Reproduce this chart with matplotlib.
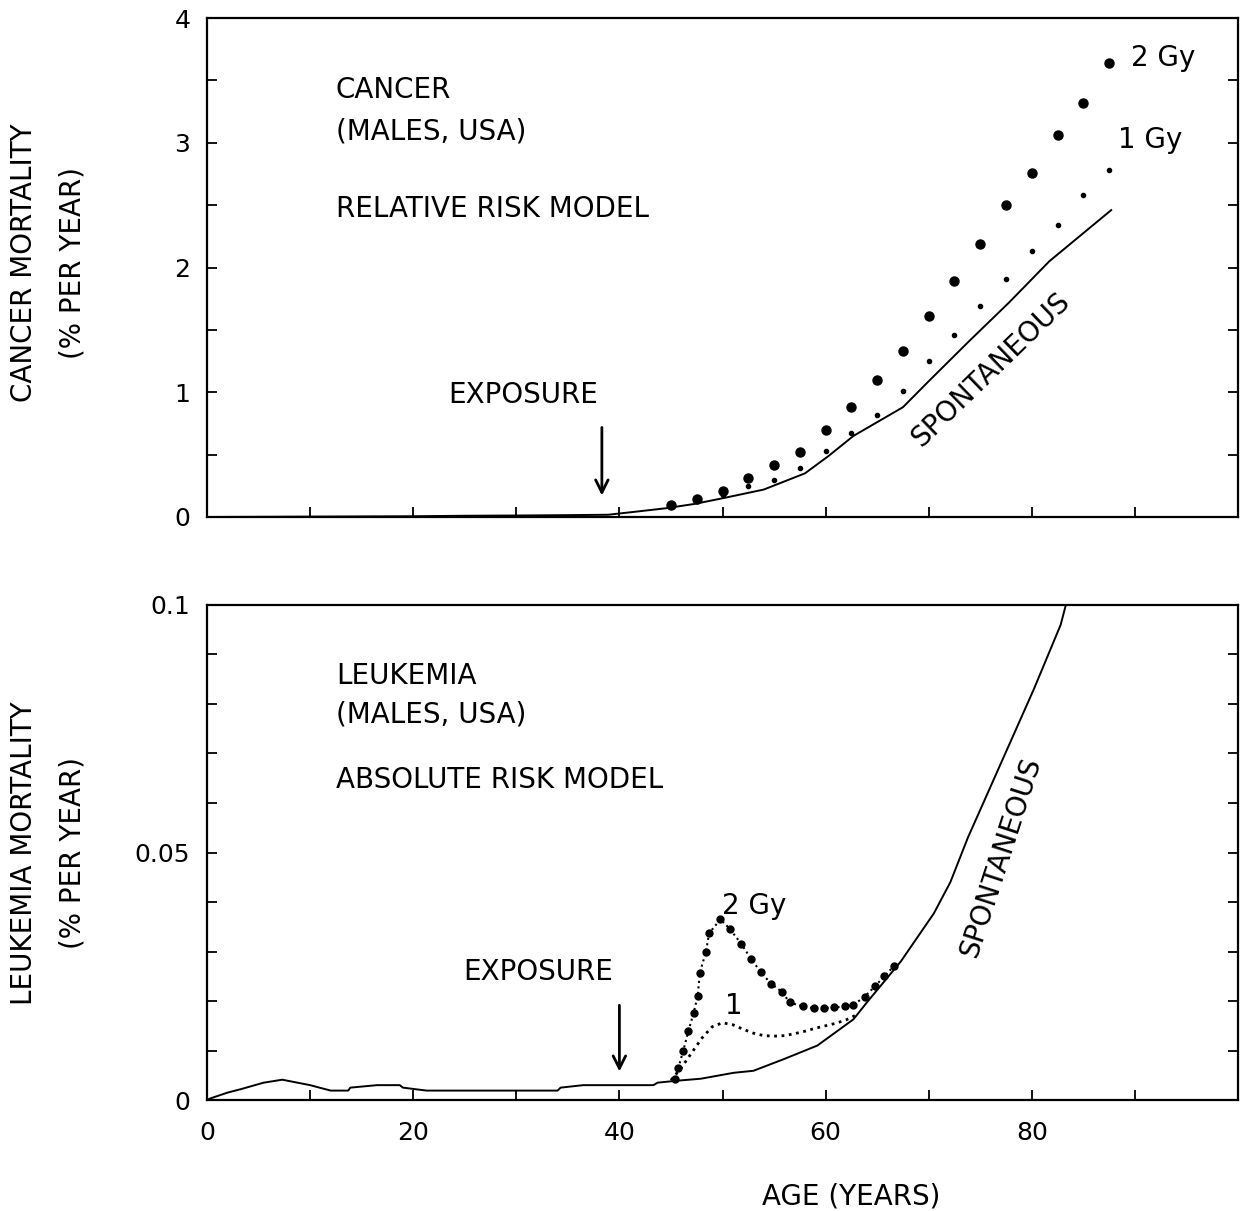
import numpy as np
import matplotlib
matplotlib.use("Agg")
import matplotlib.pyplot as plt
from matplotlib.ticker import MultipleLocator, FixedLocator

plt.rcParams['font.family'] = ['DejaVu Sans']

# ---------------- Cancer (top) ----------------
cancer_spont_age = [0, 10, 20, 25, 30, 35, 38.9, 41.3, 44.5, 47.3, 50.0, 54.0, 58.0,
                    60.3, 62.7, 67.5, 69.9, 73.8, 77.8, 81.7, 87.7]
cancer_spont_val = [0.0, 0.003, 0.006, 0.01, 0.012, 0.015, 0.018, 0.04, 0.07, 0.105, 0.15,
                    0.22, 0.35, 0.49, 0.65, 0.88, 1.08, 1.40, 1.72, 2.05, 2.46]

dose_ages = [45, 47.5, 50, 52.5, 55, 57.5, 60, 62.5, 65, 67.5, 70, 72.5, 75, 77.5,
             80, 82.5, 85, 87.5]
cancer_2gy = [0.097, 0.143, 0.21, 0.31, 0.42, 0.52, 0.70, 0.88, 1.10, 1.33, 1.61,
              1.89, 2.19, 2.50, 2.76, 3.06, 3.32, 3.64]
cancer_1gy = [0.085, 0.125, 0.175, 0.25, 0.30, 0.39, 0.53, 0.67, 0.82, 1.01, 1.25,
              1.46, 1.69, 1.91, 2.13, 2.34, 2.58, 2.78]

# ---------------- Leukemia (bottom) ----------------
leuk_spont_age = [0, 0.3, 2, 3.3, 5.5, 7.3, 10.0, 12, 13.7, 13.9, 16.5, 18.7, 19, 21.3,
                  34, 34.3, 36.5, 43.3, 43.7, 45.6, 47.9, 51.1, 53.0, 56.0, 59.2,
                  62.7, 64.0, 67.3, 70.5, 72.1, 73.8, 77.0, 80.2, 82.8, 83.3]
leuk_spont_val = [0.0, 0.0003, 0.0015, 0.0022, 0.0035, 0.0041, 0.003, 0.0019, 0.0019,
                  0.0025, 0.003, 0.003, 0.0025, 0.0019, 0.0019, 0.0025, 0.003, 0.003,
                  0.0035, 0.0039, 0.0043, 0.0055, 0.0059, 0.0083, 0.011, 0.0163,
                  0.0197, 0.028, 0.0377, 0.044, 0.053, 0.068, 0.083, 0.096, 0.1]

leuk_2gy_age = [45.4, 45.7, 46.2, 46.7, 47.2, 47.6, 47.8, 48.4, 48.7, 49.8, 50.7, 51.8,
                52.8, 53.7, 54.7, 55.8, 56.5, 57.8, 58.9, 59.8, 60.8, 61.9, 62.7,
                63.8, 64.8, 65.7, 66.6]
leuk_2gy_val = [0.0042, 0.0064, 0.010, 0.014, 0.0176, 0.0211, 0.0257, 0.030, 0.0337,
                0.0365, 0.0346, 0.0316, 0.0284, 0.0259, 0.0235, 0.0218, 0.0197, 0.0189,
                0.0185, 0.0185, 0.0187, 0.0189, 0.0192, 0.0209, 0.023, 0.025, 0.027]

leuk_1gy_age = [45, 46, 47, 48, 49, 50, 51, 52, 53, 54, 55, 56, 57, 58, 59, 60, 61, 62, 63]
leuk_1gy_val = [0.004, 0.0065, 0.0095, 0.0125, 0.0148, 0.0156, 0.0152, 0.0143, 0.0135,
                0.013, 0.0129, 0.013, 0.0134, 0.0139, 0.0145, 0.015, 0.0155, 0.0162,
                0.0172]

x_ticks = [0, 10, 20, 30, 40, 50, 60, 70, 80, 90]
x_labels = ['0', '', '20', '', '40', '', '60', '', '80', '']

W, H = 1244, 1211
fig = plt.figure(figsize=(W / 100, H / 100), dpi=100)

def ax_rect(l, t, r, b):
    return [l / W, 1 - b / H, (r - l) / W, (b - t) / H]

ax1 = fig.add_axes(ax_rect(207, 18, 1238, 517))
ax2 = fig.add_axes(ax_rect(207, 605, 1238, 1100))

FS = 20
TFS = 18
for ax in (ax1, ax2):
    ax.set_xlim(0, 100)
    for s in ax.spines.values():
        s.set_linewidth(1.6)
    ax.tick_params(which='both', direction='in', right=True, top=False,
                   length=7, width=1.3, labelsize=TFS)
    ax.tick_params(axis='y', pad=12)
    ax.tick_params(axis='x', pad=15)
    ax.xaxis.set_major_locator(FixedLocator(x_ticks))

arrow_style = dict(arrowstyle='->,head_length=0.9,head_width=0.45', color='black', lw=2)

# top axes
ax1.set_ylim(0, 4)
ax1.set_yticks([0, 1, 2, 3, 4])
ax1.set_yticklabels(['0', '1', '2', '3', '4'])
ax1.yaxis.set_minor_locator(MultipleLocator(0.5))
ax1.set_xticklabels([])
ax1.plot(cancer_spont_age, cancer_spont_val, color='black', lw=1.4)
ax1.plot(dose_ages, cancer_2gy, 'o', color='black', ms=6.5)
ax1.plot(dose_ages, cancer_1gy, 'o', color='black', ms=3)
ax1.text(12.5, 3.42, 'CANCER', fontsize=FS, va='center')
ax1.text(12.5, 3.09, '(MALES, USA)', fontsize=FS, va='center')
ax1.text(12.5, 2.47, 'RELATIVE RISK MODEL', fontsize=FS, va='center')
ax1.text(89.6, 3.68, '2 Gy', fontsize=FS, va='center')
ax1.text(88.4, 3.02, '1 Gy', fontsize=FS, va='center')
ax1.text(76.0, 1.18, 'SPONTANEOUS', fontsize=FS, rotation=44,
         ha='center', va='center', rotation_mode='anchor')
ax1.annotate('', xy=(38.3, 0.15), xytext=(38.3, 0.74), arrowprops=arrow_style)
ax1.text(30.7, 0.98, 'EXPOSURE', fontsize=FS, ha='center', va='center')

# bottom axes
ax2.set_ylim(0, 0.1)
ax2.set_yticks([0, 0.05, 0.1])
ax2.set_yticklabels(['0', '0.05', '0.1'])
ax2.yaxis.set_minor_locator(MultipleLocator(0.01))
ax2.set_xticklabels(x_labels)
ax2.plot(leuk_spont_age, leuk_spont_val, color='black', lw=1.4)
ax2.plot(leuk_2gy_age, leuk_2gy_val, linestyle=':', marker='o', color='black',
         ms=5, lw=1.5)
ax2.plot(leuk_1gy_age, leuk_1gy_val, linestyle=':', color='black', lw=2)
ax2.text(12.5, 0.0856, 'LEUKEMIA', fontsize=FS, va='center')
ax2.text(12.5, 0.0778, '(MALES, USA)', fontsize=FS, va='center')
ax2.text(12.5, 0.0647, 'ABSOLUTE RISK MODEL', fontsize=FS, va='center')
ax2.text(50.0, 0.0392, '2 Gy', fontsize=FS, va='center')
ax2.text(50.2, 0.0190, '1', fontsize=FS, va='center')
ax2.text(77.0, 0.049, 'SPONTANEOUS', fontsize=FS, rotation=72,
         ha='center', va='center', rotation_mode='anchor')
ax2.annotate('', xy=(40, 0.0052), xytext=(40, 0.0197), arrowprops=arrow_style)
ax2.text(32.1, 0.0259, 'EXPOSURE', fontsize=FS, ha='center', va='center')

# axis titles placed as figure text
def ftext(x, y, s, **kw):
    fig.text(x / W, 1 - y / H, s, fontsize=FS, ha='center', va='center', **kw)

ftext(24, 263, 'CANCER MORTALITY', rotation=90)
ftext(72, 263, '(% PER YEAR)', rotation=90)
ftext(24, 853, 'LEUKEMIA MORTALITY', rotation=90)
ftext(72, 853, '(% PER YEAR)', rotation=90)
ftext(851, 1196, 'AGE (YEARS)')

fig.savefig('out.png', dpi=100)
